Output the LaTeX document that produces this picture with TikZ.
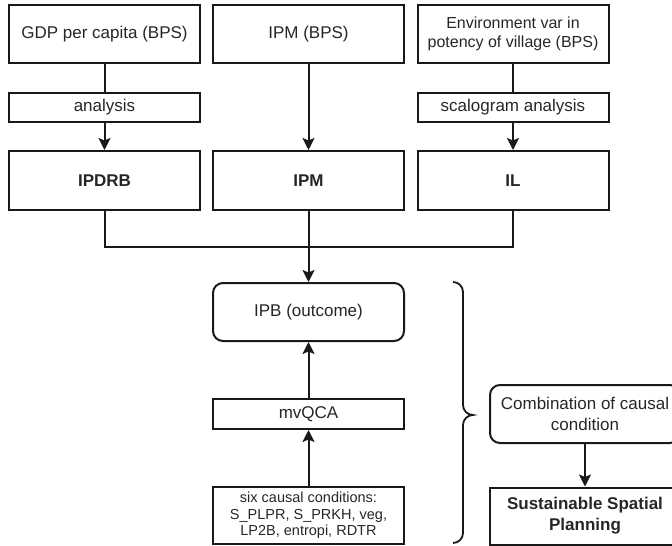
\documentclass[tikz,border=0pt]{standalone}
\usepackage{fontspec}
\setmainfont{Liberation Sans}
\usetikzlibrary{arrows.meta}
\begin{document}
\begin{tikzpicture}[x=1pt,y=-1pt,
  box/.style={draw=black!90, line width=2pt, minimum width=191pt, align=center, inner sep=0pt,
    text=black!85, font=\fontsize{17}{20}\selectfont},
  rbox/.style={box, rounded corners=10pt},
  link/.style={draw=black!90, line width=2pt},
  arr/.style={link, -{Stealth[length=12pt,width=12pt,inset=2.5pt]}}]
\useasboundingbox (0,0) rectangle (672,546);
\clip (0,0) rectangle (672,546);
% top row
\node[box, minimum height=58pt] (gdp) at (104.5,34) {GDP per capita (BPS)};
\node[box, minimum height=58pt] (ipmb) at (308.5,34) {IPM (BPS)};
\node[box, minimum height=58pt, font=\fontsize{16}{19.5}\selectfont] (env) at (513,34) {Environment var in\\potency of village (BPS)};
% analysis row
\node[box, minimum height=29pt] (ana) at (104.5,107.5) {analysis};
\node[box, minimum height=29pt] (sca) at (513,107.5) {scalogram analysis};
% index row
\node[box, minimum height=59pt, font=\fontsize{17}{20}\selectfont\bfseries] (ipdrb) at (104.5,180.5) {IPDRB};
\node[box, minimum height=59pt, font=\fontsize{17}{20}\selectfont\bfseries] (ipm) at (308.5,180.5) {IPM};
\node[box, minimum height=59pt, font=\fontsize{17}{20}\selectfont\bfseries] (il) at (513,180.5) {IL};
% middle column
\node[rbox, minimum height=58pt] (ipb) at (308.5,312) {IPB (outcome)};
\node[box, minimum height=30pt] (mvqca) at (308.5,414) {mvQCA};
\node[box, minimum height=57pt, font=\fontsize{14.5}{16.5}\selectfont] (six) at (308.5,515.5) {six causal conditions:\\S\_PLPR, S\_PRKH, veg,\\LP2B, entropi, RDTR};
% right column
\node[rbox, minimum width=190pt, minimum height=58pt, font=\fontsize{17}{21}\selectfont] (comb) at (585,414) {Combination of causal\\condition};
\node[box, minimum width=190pt, minimum height=57pt, font=\fontsize{17}{21}\selectfont\bfseries] (sus) at (585,516) {Sustainable Spatial\\Planning};
% connectors
\draw[link] (gdp) -- (ana);
\draw[arr] (ana) -- (ipdrb);
\draw[arr] (ipmb) -- (ipm);
\draw[link] (env) -- (sca);
\draw[arr] (sca) -- (il);
\draw[link] (ipdrb.south) -- ++(0,36) -| (il.south);
\draw[arr] (ipm) -- (ipb);
\draw[arr] (mvqca) -- (ipb);
\draw[arr] (six) -- (mvqca);
\draw[arr] (comb) -- (sus);
% brace
\coordinate (bt) at (453,282);
\coordinate (bm) at (473,415);
\coordinate (bb) at (453,543);
\draw[link, line width=1.8pt] (bt) to[out=0,in=90] (463,292) -- (463,405) to[out=-90,in=180] (bm)
  to[out=180,in=90] (463,425) -- (463,533) to[out=-90,in=0] (bb);
\end{tikzpicture}
\end{document}
